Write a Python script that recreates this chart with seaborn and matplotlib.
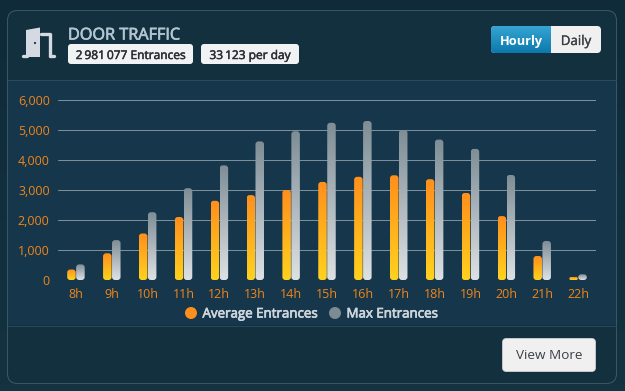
import numpy as np
import pandas as pd
import matplotlib
matplotlib.use("Agg")
import matplotlib.pyplot as plt
import matplotlib.patheffects as pe
import seaborn as sns
from matplotlib.patches import FancyBboxPatch, Rectangle
from matplotlib.colors import LinearSegmentedColormap

hours = ["8h","9h","10h","11h","12h","13h","14h","15h","16h","17h","18h","19h","20h","21h","22h"]
average_entrances = [350,890,1550,2100,2640,2830,3000,3270,3440,3490,3360,2900,2130,800,100]
max_entrances = [520,1330,2260,3060,3820,4620,4960,5240,5300,5000,4680,4370,3500,1300,190]
series_names = ["Average Entrances", "Max Entrances"]
title = "DOOR TRAFFIC"
badges = ["2\u2009981\u2009077 Entrances", "33\u2009123 per day"]

W, H = 625, 391
sns.set_theme(style="dark")
plt.rcParams['font.family'] = ['Open Sans', 'DejaVu Sans']
fig = plt.figure(figsize=(W/100, H/100), dpi=100, facecolor="#12303f")

bg = fig.add_axes([0, 0, 1, 1], zorder=0)
bg.axis("off")
page = LinearSegmentedColormap.from_list("p", ["#0f2b3a", "#14323f"])
bg.imshow(np.linspace(0,1,64).reshape(-1,1), cmap=page, extent=(0,W,H,0), aspect="auto", zorder=0)

def bold(w, c):
    return [pe.withStroke(linewidth=w, foreground=c)]

card = FancyBboxPatch((7.5,10.5), 609, 373, boxstyle="round,pad=0,rounding_size=10",
                      fc="#13303f", ec="#3a5564", lw=0.75, zorder=1)
bg.add_patch(card)
band = Rectangle((8,80), 608, 245, fc="#16374b", ec="none", zorder=1.5)
bg.add_patch(band)
bg.plot([8,616],[79.5,79.5], color="#2d4a5b", lw=0.75, zorder=2)
bg.plot([8,616],[325.5,325.5], color="#2a4859", lw=0.75, zorder=2)

def pill(x, y, w, h, r, fc, ec="none", z=3):
    p = FancyBboxPatch((x,y), w, h, boxstyle=f"round,pad=0,rounding_size={r}", fc=fc, ec=ec, lw=0.6, zorder=z)
    bg.add_patch(p)
    return p

# door icon
door_c = "#d5dae2"
bg.add_patch(plt.Polygon([[26,30],[40,27.5],[40,57],[26,57]], fc=door_c, ec="none", zorder=3))
bg.plot([23,27],[56,56], color=door_c, lw=2.4, solid_capstyle="round", zorder=3)
bg.plot([50,54],[56,56], color=door_c, lw=2.4, solid_capstyle="round", zorder=3)
bg.plot([41,50,50],[33.5,33.5,56], color=door_c, lw=2.4, solid_joinstyle="round", zorder=3)
bg.add_patch(plt.Circle((35,43), 1.1, fc="#16374b", ec="none", zorder=4))

bg.text(68, 39.5, title, color="#b4c5d2", fontsize=11.7, ha="left", va="baseline", zorder=4,
        path_effects=bold(0.5, "#b4c5d2"))
pill(68, 44, 125, 20, 3, "#f1f2f3")
bg.text(130.5, 59, badges[0], color="#2b2f33", fontsize=8.6, ha="center", va="baseline", zorder=4,
        path_effects=bold(0.35, "#2b2f33"))
pill(201, 44, 98, 20, 3, "#f1f2f3")
bg.text(250, 59, badges[1], color="#2b2f33", fontsize=8.6, ha="center", va="baseline", zorder=4,
        path_effects=bold(0.35, "#2b2f33"))

# toggle
pill(491, 26, 110, 27, 4, "#f0f0f0")
blue = LinearSegmentedColormap.from_list("b", ["#35a5d2", "#0c79ae"])
im = bg.imshow(np.linspace(0,1,32).reshape(-1,1), cmap=blue, extent=(491,551,53,26), aspect="auto", zorder=3.5)
im.set_clip_path(FancyBboxPatch((491,26), 110, 27, boxstyle="round,pad=0,rounding_size=4", transform=bg.transData))
bg.text(521.5, 45, "Hourly", color="white", fontsize=9.2, fontweight="bold", ha="center", va="baseline", zorder=4)
bg.text(576, 45, "Daily", color="#3a3f44", fontsize=9.6, ha="center", va="baseline", zorder=4,
        path_effects=bold(0.2, "#3a3f44"))

# view more
pill(502.5, 338.5, 93, 33, 4, "#f0f0f0", ec="#d0d0d0")
bg.text(549, 359, "View More", color="#3a3f44", fontsize=9.7, ha="center", va="baseline", zorder=4)

# legend
bg.add_patch(plt.Circle((191,313), 6, fc="#ff8f1c", ec="none", zorder=4))
bg.add_patch(plt.Circle((335,313), 6, fc="#7d8b92", ec="none", zorder=4))
bg.text(202.5, 317.5, series_names[0], color="#ced6dc", fontsize=9.6, va="baseline", zorder=4,
        path_effects=bold(0.5, "#ced6dc"))
bg.text(346.5, 317.5, series_names[1], color="#ced6dc", fontsize=9.6, va="baseline", zorder=4,
        path_effects=bold(0.5, "#ced6dc"))
bg.set_xlim(0, W); bg.set_ylim(H, 0)

# chart
ax = fig.add_axes([58/W, 1-280/H, 538/W, 180/H], zorder=5)
ax.patch.set_alpha(0)
df = pd.DataFrame({
    "hour": hours*2,
    "value": average_entrances + max_entrances,
    "series": [series_names[0]]*len(hours) + [series_names[1]]*len(hours),
})
sns.barplot(data=df, x="hour", y="value", hue="series", order=hours, hue_order=series_names,
            width=0.5, gap=0.05, ax=ax, legend=False, palette=["#ff9a1a", "#8a989f"], saturation=1)
ax.set_xlabel(""); ax.set_ylabel("")
ax.set_yticks(range(0, 7000, 1000))
ax.set_yticklabels([f"{v:,}" for v in range(0, 7000, 1000)])
ax.yaxis.grid(True, color="#7a8f9a", lw=0.75); ax.xaxis.grid(False)
ax.set_axisbelow(True)
for s in ax.spines.values():
    s.set_visible(False)
ax.tick_params(axis="both", length=0, labelcolor="#f0851a", labelsize=9, pad=6)

cm_o = LinearSegmentedColormap.from_list("o", ["#ff8f1c", "#ffd21e"])
cm_g = LinearSegmentedColormap.from_list("g", ["#7f8e96", "#dde1e4"])
n = len(hours)
px_x = 538/15; px_y = 180/6000
for i, bar in enumerate(list(ax.patches)):
    x0, w, h = bar.get_x(), bar.get_width(), bar.get_height()
    if w == 0 or h == 0:
        continue
    cm = cm_o if i < n else cm_g
    bar.set_visible(False)
    r = min(3.0, h*px_y/2)/px_x
    shape = FancyBboxPatch((x0, 0), w, h, boxstyle="round,pad=0,rounding_size=%f" % r,
                           mutation_aspect=px_x/px_y, transform=ax.transData, fc="none", ec="none")
    ax.add_patch(shape)
    img = ax.imshow(np.linspace(0,1,64).reshape(-1,1), cmap=cm, extent=(x0, x0+w, 0, h),
                    aspect="auto", zorder=3, origin="upper")
    img.set_clip_path(shape)
ax.set_xlim(-0.5, 14.5); ax.set_ylim(0, 6000)
ax.set_aspect("auto")

fig.savefig("out.png", dpi=100, facecolor=fig.get_facecolor())
